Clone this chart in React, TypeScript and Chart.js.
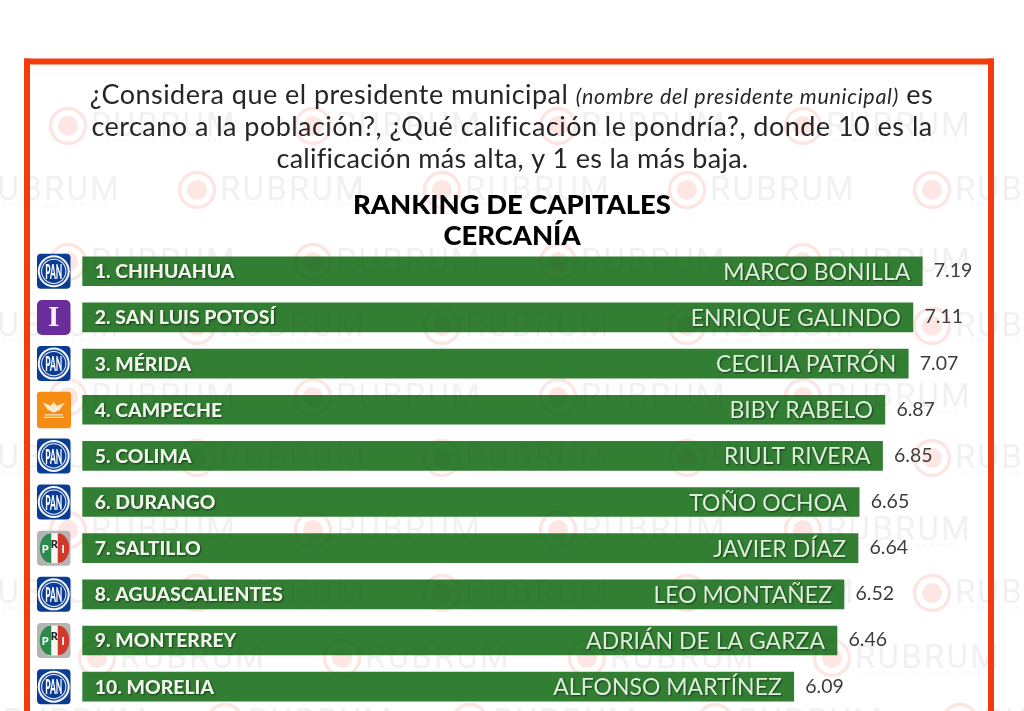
import React, { useEffect, useRef } from "react";
import { Chart, registerables } from "chart.js";

Chart.register(...registerables);

const cities = ["1. CHIHUAHUA", "2. SAN LUIS POTOSÍ", "3. MÉRIDA", "4. CAMPECHE", "5. COLIMA", "6. DURANGO", "7. SALTILLO", "8. AGUASCALIENTES", "9. MONTERREY", "10. MORELIA"];
const candidates = ["MARCO BONILLA", "ENRIQUE GALINDO", "CECILIA PATRÓN", "BIBY RABELO", "RIULT RIVERA", "TOÑO OCHOA", "JAVIER DÍAZ", "LEO MONTAÑEZ", "ADRIÁN DE LA GARZA", "ALFONSO MARTÍNEZ"];
const scores = [7.19, 7.11, 7.07, 6.87, 6.85, 6.65, 6.64, 6.52, 6.46, 6.09];
const parties = ["PAN", "I", "PAN", "MC", "PAN", "PAN", "PRI", "PAN", "PRI", "PAN"];
const titleLines = ["RANKING DE CAPITALES", "CERCANÍA"];
const brand = "RUBRUM";
const brandSub = "INFORMACIÓN QUE DA PODER";

const FONT = "Lato, 'Open Sans', sans-serif";
const W = 1024;
const H = 711;

function rr(ctx: CanvasRenderingContext2D, x: number, y: number, w: number, h: number, r: number, fill: string) {
  ctx.beginPath();
  ctx.roundRect(x, y, w, h, r);
  ctx.fillStyle = fill;
  ctx.fill();
}

function disc(ctx: CanvasRenderingContext2D, x: number, y: number, r: number, fill: string) {
  ctx.beginPath();
  ctx.arc(x, y, r, 0, Math.PI * 2);
  ctx.fillStyle = fill;
  ctx.fill();
}

function drawIcon(ctx: CanvasRenderingContext2D, party: string, cy: number) {
  const x = 37, w = 33.5, h = 35, y = cy - h / 2, cx = x + w / 2;
  ctx.save();
  ctx.textAlign = "center";
  ctx.textBaseline = "middle";
  if (party === "PAN") {
    rr(ctx, x, y, w, h, 4, "#0b3c94");
    disc(ctx, cx, cy, 16, "#f4f6fa");
    disc(ctx, cx, cy, 14, "#1a4a9e");
    disc(ctx, cx, cy, 12.6, "#f4f6fa");
    disc(ctx, cx, cy, 11.6, "#0b3c94");
    ctx.save();
    ctx.translate(cx, cy);
    ctx.scale(0.62, 1.6);
    ctx.fillStyle = "#fff";
    ctx.font = `900 13.5px ${FONT}`;
    ctx.fillText("PAN", 0, 0.5);
    ctx.restore();
  } else if (party === "I") {
    rr(ctx, x, y, w, h, 5, "#6a2d9c");
    ctx.fillStyle = "#f6f0fa";
    ctx.font = "bold 29px 'Liberation Serif', serif";
    ctx.fillText("I", cx, cy + 1);
  } else if (party === "MC") {
    rr(ctx, x, y - 0.5, w + 0.5, h + 1.5, 3, "#f78c12");
    ctx.fillStyle = "#fde9cf";
    ctx.beginPath();
    ctx.moveTo(cx - 11, cy - 7);
    ctx.lineTo(cx - 3, cy - 4);
    ctx.lineTo(cx, cy - 8);
    ctx.lineTo(cx + 3, cy - 4);
    ctx.lineTo(cx + 11, cy - 7);
    ctx.lineTo(cx + 6, cy);
    ctx.lineTo(cx, cy + 3);
    ctx.lineTo(cx - 6, cy);
    ctx.closePath();
    ctx.fill();
    ctx.fillRect(cx - 9, cy + 4.5, 18, 1.2);
    ctx.fillRect(cx - 10, cy + 7, 20, 1.2);
  } else {
    rr(ctx, x, y, w, h, 4, "#b4b4b2");
    ctx.beginPath();
    ctx.rect(cx - 6, cy - 15, 12, 30);
    ctx.fillStyle = "#f6f6f4";
    ctx.fill();
    ctx.fillStyle = "#2b8a4c";
    ctx.beginPath();
    ctx.ellipse(cx - 2.5, cy, 11.5, 15, 0, Math.PI / 2, Math.PI * 1.5);
    ctx.closePath();
    ctx.fill();
    ctx.fillStyle = "#cf3a2c";
    ctx.beginPath();
    ctx.ellipse(cx + 4, cy, 11.5, 15, 0, -Math.PI / 2, Math.PI / 2);
    ctx.closePath();
    ctx.fill();
    ctx.font = `900 11px ${FONT}`;
    ctx.fillStyle = "#fff";
    ctx.fillText("P", cx - 8.5, cy + 1);
    ctx.fillText("I", cx + 9.5, cy + 1);
    ctx.fillStyle = "#222";
    ctx.fillText("R", cx + 0.5, cy - 4);
  }
  ctx.restore();
}

function drawMark(ctx: CanvasRenderingContext2D, cx: number, cy: number) {
  ctx.beginPath();
  ctx.arc(cx, cy, 17.5, 0, Math.PI * 2);
  ctx.strokeStyle = "#fce6e3";
  ctx.lineWidth = 3.5;
  ctx.stroke();
  disc(ctx, cx, cy, 10, "#fde6e3");
  ctx.fillStyle = "#f1f1f1";
  ctx.textAlign = "left";
  ctx.textBaseline = "alphabetic";
  (ctx as any).letterSpacing = "2.2px";
  ctx.font = `400 33px Roboto, ${FONT}`;
  ctx.fillText(brand, cx + 23, cy + 10);
  (ctx as any).letterSpacing = "1.6px";
  ctx.font = `400 6px ${FONT}`;
  ctx.fillStyle = "#f4f4f4";
  ctx.fillText(brandSub, cx + 29, cy + 17);
  (ctx as any).letterSpacing = "0px";
}

const markRows: [number, number][] = [
  [126, 68], [190, -48], [262, 68], [326, -48], [397, 68], [458, -48], [530, 68], [593, -48], [658, 97], [722, -20],
];

const ranking = {
  id: "ranking",
  beforeDatasetsDraw(chart: any) {
    const ctx: CanvasRenderingContext2D = chart.ctx;
    ctx.save();
    markRows.forEach(([y, x0]) => {
      for (let x = x0; x < W; x += 245) drawMark(ctx, x, y);
    });
    ctx.restore();
  },
  afterDatasetsDraw(chart: any) {
    const ctx: CanvasRenderingContext2D = chart.ctx;
    const xs = chart.scales.x;
    const ys = chart.scales.y;
    ctx.save();

    // faint watermark bleeding through bars
    ctx.globalCompositeOperation = "multiply";
    ctx.globalAlpha = 0.4;
    ctx.beginPath();
    scores.forEach((v, i) => {
      const c = ys.getPixelForValue(i);
      ctx.rect(xs.getPixelForValue(0), c - 14.5, xs.getPixelForValue(v) - xs.getPixelForValue(0), 29);
    });
    ctx.clip();
    markRows.forEach(([y, x0]) => {
      for (let x = x0; x < W; x += 245) drawMark(ctx, x, y);
    });
    ctx.restore();

    // frame
    ctx.save();
    ctx.fillStyle = "#f23c0e";
    ctx.fillRect(24, 58.5, 970, 6);
    ctx.fillRect(24, 58.5, 6, H - 58);
    ctx.fillRect(988, 58.5, 6, H - 58);

    // question
    ctx.fillStyle = "#262626";
    ctx.textBaseline = "alphabetic";
    const big = `400 27px ${FONT}`;
    const small = `italic 400 21.5px ${FONT}`;
    const spacing: Record<string, string> = { [big]: "0.47px", [small]: "0.7px" };
    const parts: [string, string][] = [
      ["¿Considera que el presidente municipal ", big],
      ["(", small],
      ["nombre del presidente municipal", small],
      [")", small],
      [" es", big],
    ];
    let total = 0;
    parts.forEach(([t, f]) => {
      ctx.font = f;
      (ctx as any).letterSpacing = spacing[f];
      total += ctx.measureText(t).width;
    });
    let px = 511.5 - total / 2;
    ctx.textAlign = "left";
    parts.forEach(([t, f]) => {
      ctx.font = f;
      (ctx as any).letterSpacing = spacing[f];
      ctx.fillText(t, px, 104);
      px += ctx.measureText(t).width;
    });
    ctx.textAlign = "center";
    ctx.font = big;
    (ctx as any).letterSpacing = spacing[big];
    ctx.fillText("cercano a la población?, ¿Qué calificación le pondría?, donde 10 es la", 512, 136);
    (ctx as any).letterSpacing = "0.28px";
    ctx.fillText("calificación más alta, y 1 es la más baja.", 512.5, 168);
    (ctx as any).letterSpacing = "0px";

    // heading
    ctx.fillStyle = "#000";
    ctx.font = `900 27.4px ${FONT}`;
    ctx.fillText(titleLines[0], 512, 213.5);
    ctx.fillText(titleLines[1], 512, 245);

    // rows
    scores.forEach((v, i) => {
      const cy = ys.getPixelForValue(i);
      const end = xs.getPixelForValue(v);
      drawIcon(ctx, parties[i], cy);

      ctx.save();
      ctx.shadowColor = "rgba(0,0,0,0.55)";
      ctx.shadowBlur = 2;
      ctx.shadowOffsetX = 1;
      ctx.shadowOffsetY = 1;
      ctx.textAlign = "left";
      ctx.fillStyle = "#eef6ea";
      ctx.font = `900 19.4px ${FONT}`;
      ctx.fillText(cities[i], xs.getPixelForValue(0) + 12.5, cy + 7);
      ctx.textAlign = "right";
      ctx.fillStyle = "#dcf0d9";
      ctx.font = `400 23px ${FONT}`;
      ctx.fillText(candidates[i], end - 12, cy + 8.5);
      ctx.restore();

      ctx.textAlign = "left";
      ctx.fillStyle = "#3c3c3c";
      ctx.font = `400 19.5px ${FONT}`;
      ctx.fillText(v.toFixed(2), end + 11.5, cy + 6);
    });
    ctx.restore();
  },
};

export default function App() {
  const ref = useRef<HTMLCanvasElement>(null);
  useEffect(() => {
    const chart = new Chart(ref.current!, {
      type: "bar",
      data: {
        labels: cities,
        datasets: [
          {
            label: "Cercanía",
            data: scores,
            backgroundColor: "#327f33",
            barThickness: 29,
          },
        ],
      },
      options: {
        indexAxis: "y",
        responsive: false,
        animation: false,
        devicePixelRatio: 1,
        layout: { padding: { left: 82.3, right: 7.1, top: 248.2, bottom: 1.3 } },
        plugins: { legend: { display: false }, tooltip: { enabled: false } },
        scales: {
          x: { display: false, min: 0, max: 8 },
          y: { display: false },
        },
      },
      plugins: [ranking],
    } as any);
    return () => chart.destroy();
  }, []);
  return (
    <div style={{ position: "fixed", left: 0, top: 0, width: W, height: H, background: "#fff" }}>
      <canvas ref={ref} width={W} height={H} style={{ display: "block" }} />
    </div>
  );
}
